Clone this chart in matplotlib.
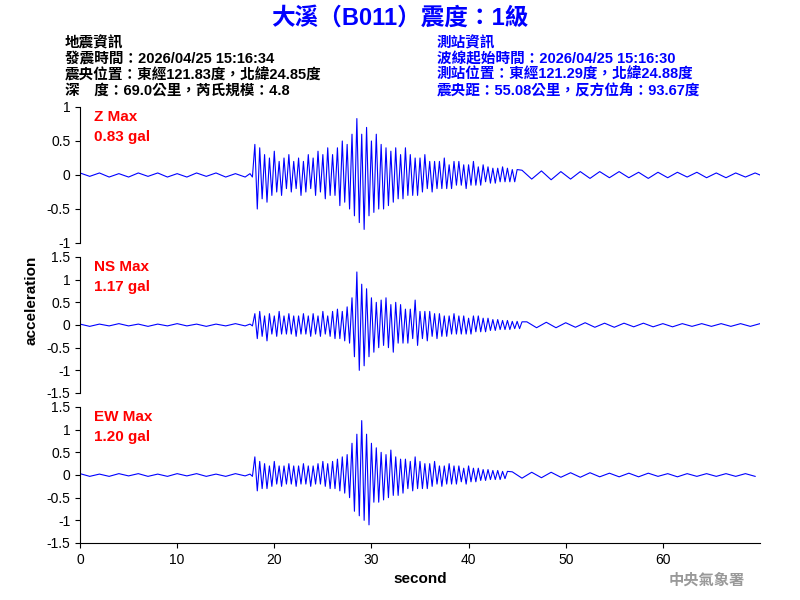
import numpy as np
import matplotlib
matplotlib.use("Agg")
import matplotlib.pyplot as plt

plt.rcParams['font.family'] = ['Liberation Sans', 'Noto Sans CJK TC', 'DejaVu Sans']

# quiet pre-event (0..17 s, 1 s step)
pre_z = [0.03,-0.02,0.03,-0.03,0.02,-0.03,0.03,-0.02,0.03,-0.03,0.02,-0.03,0.03,-0.02,0.03,-0.03,0.02,-0.03]
pre_ns = [0.02,-0.03,0.02,-0.02,0.03,-0.02,0.02,-0.03,0.02,-0.02,0.03,-0.02,0.02,-0.03,0.02,-0.02,0.03,-0.02]
pre_ew = [0.03,-0.03,0.02,-0.03,0.03,-0.02,0.03,-0.03,0.02,-0.03,0.03,-0.02,0.03,-0.03,0.02,-0.03,0.03,-0.02]
# active part (17.5 s onward, 0.25 s step)
act_z = [0.02,-0.03,0.45,-0.5,0.4,-0.35,0.3,-0.4,0.25,-0.3,0.35,-0.25,0.2,-0.3,0.25,-0.2,0.3,-0.25,0.2,-0.2,
         0.25,-0.3,0.2,-0.25,0.3,-0.2,0.25,-0.3,0.35,-0.25,0.3,-0.35,0.4,-0.3,0.3,-0.3,0.4,-0.45,0.5,-0.4,
         0.45,-0.5,0.6,-0.6,0.83,-0.7,0.6,-0.8,0.7,-0.6,0.5,-0.55,0.6,-0.5,0.45,-0.5,0.4,-0.45,0.35,-0.4,
         0.4,-0.35,0.3,-0.35,0.4,-0.3,0.3,-0.3,0.25,-0.3,0.25,-0.25,0.3,-0.2,0.2,-0.25,0.2,-0.2,0.2,-0.2,
         0.25,-0.2,0.15,-0.2,0.2,-0.15,0.2,-0.15,0.15,-0.2,0.15,-0.15,0.2,-0.15,0.12,-0.15,0.15,-0.1,0.12,-0.12,
         0.1,-0.12,0.1,-0.1,0.12,-0.1,0.1,-0.1,0.08,-0.1,0.08]
act_ns = [0.02,-0.02,0.25,-0.3,0.3,-0.25,0.2,-0.35,0.25,-0.2,0.2,-0.25,0.3,-0.2,0.2,-0.2,0.25,-0.2,0.2,-0.25,
          0.2,-0.2,0.25,-0.2,0.2,-0.25,0.25,-0.2,0.2,-0.25,0.3,-0.2,0.2,-0.25,0.3,-0.3,0.35,-0.3,0.3,-0.35,
          0.4,-0.4,0.6,-0.7,1.17,-1.0,0.9,-0.9,0.8,-0.7,0.6,-0.6,0.5,-0.5,0.55,-0.45,0.6,-0.5,0.45,-0.6,
          0.5,-0.4,0.45,-0.4,0.35,-0.4,0.35,-0.3,0.55,-0.45,0.3,-0.3,0.3,-0.35,0.3,-0.25,0.25,-0.3,0.25,-0.25,
          0.2,-0.25,0.2,-0.2,0.25,-0.2,0.2,-0.2,0.2,-0.2,0.15,-0.2,0.2,-0.15,0.2,-0.15,0.15,-0.15,0.15,-0.12,
          0.12,-0.12,0.12,-0.1,0.1,-0.1,0.1,-0.1,0.08,-0.08,0.08,-0.08,0.07]
act_ew = [0.02,-0.03,0.4,-0.35,0.3,-0.3,0.25,-0.3,0.2,-0.25,0.3,-0.2,0.2,-0.25,0.2,-0.2,0.25,-0.2,0.2,-0.25,
          0.2,-0.2,0.25,-0.2,0.2,-0.25,0.2,-0.2,0.25,-0.2,0.3,-0.25,0.25,-0.3,0.3,-0.3,0.35,-0.35,0.4,-0.4,
          0.45,-0.5,0.7,-0.8,0.9,-0.9,1.2,-1.0,0.9,-1.1,0.7,-0.6,0.6,-0.6,0.5,-0.55,0.45,-0.5,0.55,-0.45,
          0.4,-0.45,0.35,-0.4,0.35,-0.3,0.3,-0.35,0.4,-0.3,0.3,-0.3,0.25,-0.3,0.25,-0.25,0.3,-0.2,0.2,-0.25,
          0.2,-0.2,0.25,-0.2,0.2,-0.2,0.2,-0.15,0.15,-0.2,0.2,-0.15,0.15,-0.15,0.15,-0.12,0.12,-0.12,0.12,-0.1,
          0.1,-0.1,0.1,-0.1,0.08,-0.08,0.08]
# tail (1 s step, after the active part)
post_z = [0.07,-0.06,0.06,-0.07,0.05,-0.06,0.05,-0.05,0.05,-0.04,0.05,-0.04,0.04,-0.05,0.04,-0.04,0.04,-0.03,0.04,-0.04,0.03,-0.04,0.03,-0.03,0.03,-0.03]
post_ns = [0.07,-0.06,0.06,-0.06,0.05,-0.05,0.05,-0.05,0.04,-0.05,0.04,-0.04,0.04,-0.04,0.03,-0.04,0.03,-0.03,0.03,-0.03,0.03,-0.03,0.03,-0.03,0.03,-0.03]
post_ew = [0.07,-0.07,0.06,-0.06,0.06,-0.05,0.05,-0.05,0.05,-0.04,0.04,-0.04,0.04,-0.04,0.04,-0.03,0.03,-0.04,0.03,-0.03,0.03,-0.03,0.03,-0.03,0.03,-0.03]

names = ['Z Max\n0.83 gal', 'NS Max\n1.17 gal', 'EW Max\n1.20 gal']
ylims = [(-1, 1), (-1.5, 1.5), (-1.5, 1.5)]
yticks = [[-1, -0.5, 0, 0.5, 1], [-1.5, -1, -0.5, 0, 0.5, 1, 1.5], [-1.5, -1, -0.5, 0, 0.5, 1, 1.5]]

def series(pre, act, post):
    ta = 17.5 + np.arange(len(act)) * 0.25
    t = np.concatenate([np.arange(len(pre)) * 1.0, ta,
                        ta[-1] + 0.5 + np.arange(len(post)) * 1.0])
    return t, np.array(pre + act + post)

data = [series(pre_z, act_z, post_z), series(pre_ns, act_ns, post_ns), series(pre_ew, act_ew, post_ew)]

fig = plt.figure(figsize=(8, 6), dpi=100)
H = 600
tops = [107, 257, 407]
for i in range(3):
    ax = fig.add_axes([80/800, 1 - (tops[i] + 136)/H, 680/800, 136/H])
    t, v = data[i]
    ax.plot(t, v, color='blue', lw=0.8)
    ax.set_xlim(0, 70)
    ax.set_ylim(*ylims[i])
    ax.set_yticks(yticks[i])
    ax.set_yticklabels([f'{y:g}' for y in yticks[i]], fontsize=10)
    ax.spines['top'].set_visible(False)
    ax.spines['right'].set_visible(False)
    if i < 2:
        ax.spines['bottom'].set_visible(False)
        ax.set_xticks([])
    else:
        ax.set_xticks([0, 10, 20, 30, 40, 50, 60])
        ax.tick_params(labelsize=10)
        ax.set_xlabel('second', fontsize=11, fontweight='bold')
    ax.text(0.02, 0.98, names[i], transform=ax.transAxes, color='red', fontsize=11,
            fontweight='bold', va='top', ha='left', linespacing=1.6)
fig.text(0.04, 0.5, 'acceleration', rotation=90, va='center', ha='center', fontsize=11, fontweight='bold')

fig.text(0.5, 1 - 18/H, '大溪（B011）震度：1級', color='blue', fontsize=17, fontweight='bold',
         ha='center', va='center')
left = ['地震資訊', '發震時間：2026/04/25 15:16:34', '震央位置：東經121.83度，北緯24.85度', '深　度：69.0公里，芮氏規模：4.8']
right = ['測站資訊', '波線起始時間：2026/04/25 15:16:30', '測站位置：東經121.29度，北緯24.88度', '震央距：55.08公里，反方位角：93.67度']
for k in range(4):
    y = 1 - (43 + k*16)/H
    fig.text(65/800, y, left[k], fontsize=10.5, fontweight='bold', va='center', color='black')
    fig.text(437/800, y, right[k], fontsize=10.5, fontweight='bold', va='center', color='blue')
fig.text(745/800, 1 - 580/H, '中央氣象署', fontsize=11, color='#999999', fontweight='bold', ha='right', va='center')
fig.savefig('out.png', dpi=100)
